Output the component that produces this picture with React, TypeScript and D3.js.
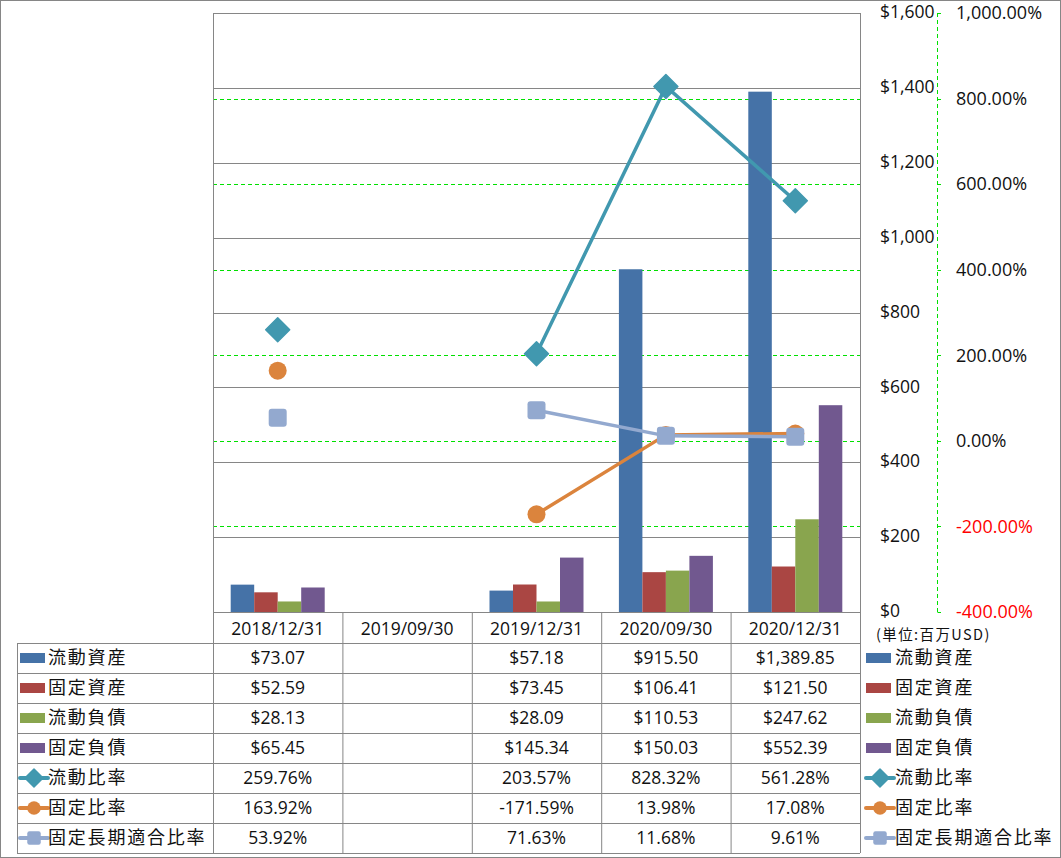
import React from "react";
import * as d3 from "d3";

const categories = ["2018/12/31", "2019/09/30", "2019/12/31", "2020/09/30", "2020/12/31"];
const barNames = ["流動資産", "固定資産", "流動負債", "固定負債"];
const currentAssets = [73.07, null, 57.18, 915.5, 1389.85];
const fixedAssets = [52.59, null, 73.45, 106.41, 121.5];
const currentLiab = [28.13, null, 28.09, 110.53, 247.62];
const fixedLiab = [65.45, null, 145.34, 150.03, 552.39];
const lineNames = ["流動比率", "固定比率", "固定長期適合比率"];
const currentRatio = [259.76, null, 203.57, 828.32, 561.28];
const fixedRatio = [163.92, null, -171.59, 13.98, 17.08];
const fixedLongRatio = [53.92, null, 71.63, 11.68, 9.61];
const leftTicks = [0, 200, 400, 600, 800, 1000, 1200, 1400, 1600];
const rightTicks = [-400, -200, 0, 200, 400, 600, 800, 1000];

const barSeries = [currentAssets, fixedAssets, currentLiab, fixedLiab];
const lineSeries = [currentRatio, fixedRatio, fixedLongRatio];
const barColors = ["#4572A7", "#AA4643", "#89A54E", "#71588F"];
const lineColors = ["#4198AF", "#DB843D", "#93A9CF"];
const markers = ["diamond", "circle", "square"];

const W = 1061, H = 858;
const L = 213, R = 860, T = 13, B = 612;
const rowH = 30;
const tableTop = 643;

const font = "'Noto Sans CJK JP', 'Liberation Sans', sans-serif";
const numFont = "'Open Sans', 'Liberation Sans', sans-serif";

const loc = d3.formatLocale({ decimal: ".", thousands: ",", grouping: [3], currency: ["$", ""], minus: "-" });
const f2 = loc.format(",.2f");
const f0 = loc.format(",");

function Marker({ type, x, y, color, s = 1 }: any) {
  if (type === "diamond") {
    const r = 12 * s;
    return <path d={`M${x},${y - r}L${x + r},${y}L${x},${y + r}L${x - r},${y}Z`} fill={color} stroke={color} strokeWidth={1.5} strokeLinejoin="round" />;
  }
  if (type === "circle") return <circle cx={x} cy={y} r={9 * s} fill={color} />;
  const h = 9 * s;
  return <rect x={x - h} y={y - h} width={2 * h} height={2 * h} rx={3 * s} fill={color} />;
}

function fmtMoney(v: number | null) {
  if (v == null) return "";
  return "$" + f2(v);
}
function fmtPct(v: number | null) {
  if (v == null) return "";
  return loc.format(".2f")(v) + "%";
}

export default function App() {
  const x = d3.scaleBand<string>().domain(categories).range([L, R]);
  const bw = x.bandwidth();
  const yL = d3.scaleLinear().domain([0, 1600]).range([B, T]);
  const yR = d3.scaleLinear().domain([-400, 1000]).range([B, T]);
  const inner = d3.scaleBand<number>().domain([0, 1, 2, 3]).range([17.7, bw - 17.7]);
  const cx = (c: string) => (x(c) as number) + bw / 2;

  const lineGen = d3
    .line<any>()
    .defined((d) => d.v != null)
    .x((d) => cx(d.c))
    .y((d) => yR(d.v));

  const rowLabels = [...barNames, ...lineNames];
  const rowData = [...barSeries, ...lineSeries];
  const rowColors = [...barColors, ...lineColors];

  const LegendIcon = ({ i, x0, y0 }: any) => {
    if (i < 4) return <rect x={x0} y={y0 - 5} width={25} height={10} fill={rowColors[i]} />;
    const li = i - 4;
    return (
      <g>
        <line x1={x0} x2={x0 + 28} y1={y0} y2={y0} stroke={rowColors[i]} strokeWidth={4} strokeLinecap="round" />
        <Marker type={markers[li]} x={x0 + 14} y={y0} color={rowColors[i]} s={0.75} />
      </g>
    );
  };

  return (
    <div style={{ position: "absolute", left: 0, top: 0 }}>
      <svg width={W} height={H} style={{ display: "block", background: "#fff" }}>
        <rect x={0.5} y={0.5} width={W - 1} height={H - 1} fill="#fff" stroke="#868686" />
        {leftTicks.map((t) => (
          <line key={"g" + t} x1={L} x2={R} y1={Math.round(yL(t)) + 0.5} y2={Math.round(yL(t)) + 0.5} stroke="#868686" strokeWidth={1} />
        ))}
        {rightTicks.filter((t) => t > -400 && t < 1000).map((t) => (
          <line key={"r" + t} x1={L} x2={R} y1={Math.round(yR(t)) + 0.5} y2={Math.round(yR(t)) + 0.5} stroke="#00E000" strokeWidth={1} strokeDasharray="4,3" />
        ))}
        {barSeries.map((s, si) =>
          s.map((v, ci) =>
            v == null ? null : (
              <rect
                key={`b${si}-${ci}`}
                x={(x(categories[ci]) as number) + (inner(si) as number)}
                y={yL(v)}
                width={inner.bandwidth()}
                height={B - yL(v)}
                fill={barColors[si]}
              />
            )
          )
        )}
        {lineSeries.map((s, si) => (
          <path
            key={"l" + si}
            d={lineGen(s.map((v, i) => ({ c: categories[i], v }))) || ""}
            fill="none"
            stroke={lineColors[si]}
            strokeWidth={3.5}
          />
        ))}
        {lineSeries.map((s, si) =>
          s.map((v, ci) =>
            v == null ? null : <Marker key={`m${si}-${ci}`} type={markers[si]} x={cx(categories[ci])} y={yR(v)} color={lineColors[si]} />
          )
        )}
        <line x1={L + 0.5} x2={L + 0.5} y1={T} y2={tableTop + rowH * 7} stroke="#868686" />
        <line x1={R + 0.5} x2={R + 0.5} y1={T} y2={tableTop + rowH * 7} stroke="#868686" />
        <line x1={937.5} x2={937.5} y1={T} y2={B} stroke="#00E000" strokeDasharray="4,3" />
        {rightTicks.map((t) => (
          <line key={"rt" + t} x1={937.5} x2={941} y1={Math.round(yR(t)) + 0.5} y2={Math.round(yR(t)) + 0.5} stroke="#00E000" />
        ))}
        {leftTicks.map((t) => (
          <text key={"lt" + t} x={880} y={yL(t) - 1} dy="0.35em" fontFamily={numFont} fontSize={17.5} fill="#111">
            {"$" + f0(t)}
          </text>
        ))}
        {rightTicks.map((t) => (
          <text key={"rl" + t} x={956} y={yR(t)} dy="0.35em" fontFamily={numFont} fontSize={18} fill={t < 0 ? "#FF0000" : "#111"}>
            {f2(t) + "%"}
          </text>
        ))}
        <text x={876} y={635} fontFamily={font} fontSize={14.5} letterSpacing={1.4} fill="#111" dy="0.35em">
          (単位:百万USD)
        </text>
        <line x1={L} x2={R} y1={B + 0.5} y2={B + 0.5} stroke="#868686" />
        {categories.map((c) => (
          <g key={"h" + c}>
            <line x1={(x(c) as number) + bw + 0.5} x2={(x(c) as number) + bw + 0.5} y1={B} y2={tableTop + rowH * 7} stroke="#868686" />
            <text x={cx(c)} y={(B + tableTop) / 2 + 1} dy="0.35em" textAnchor="middle" fontFamily={numFont} fontSize={17.5} fill="#111">
              {c}
            </text>
          </g>
        ))}
        {d3.range(8).map((r) => (
          <line key={"hr" + r} x1={17} x2={R} y1={tableTop + r * rowH + 0.5} y2={tableTop + r * rowH + 0.5} stroke="#868686" />
        ))}
        <line x1={17.5} x2={17.5} y1={tableTop} y2={tableTop + rowH * 7} stroke="#868686" />
        {rowLabels.map((lab, r) => {
          const yc = tableTop + r * rowH + rowH / 2;
          const data = rowData[r];
          return (
            <g key={"row" + r}>
              <LegendIcon i={r} x0={20} y0={yc} />
              <text x={48} y={yc} dy="0.35em" fontFamily={font} fontSize={18} letterSpacing={1.8} fill="#111">
                {lab}
              </text>
              {data.map((v, ci) => (
                <text key={ci} x={cx(categories[ci])} y={yc} dy="0.35em" textAnchor="middle" fontFamily={numFont} fontSize={17.5} fill="#111">
                  {r < 4 ? fmtMoney(v) : fmtPct(v)}
                </text>
              ))}
              <LegendIcon i={r} x0={866} y0={yc} />
              <text x={895} y={yc} dy="0.35em" fontFamily={font} fontSize={18} letterSpacing={1.8} fill="#111">
                {lab}
              </text>
            </g>
          );
        })}
      </svg>
    </div>
  );
}
